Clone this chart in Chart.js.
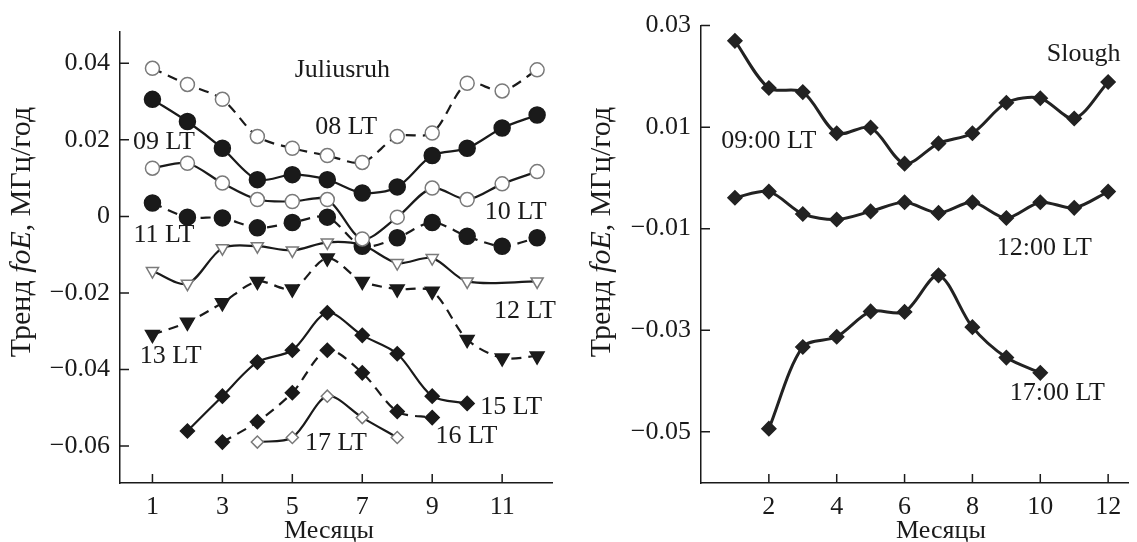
<!DOCTYPE html>
<html><head><meta charset="utf-8">
<script src="https://cdn.jsdelivr.net/npm/chart.js@4.4.1/dist/chart.umd.min.js"></script>
<style>
html,body{margin:0;background:#fff}
#wrap{position:relative;width:1137px;height:542px}
.pane{position:absolute;top:0;height:542px}
</style></head><body>
<div id="wrap">
  <div class="pane" style="left:0;width:562px"><canvas id="chL"></canvas></div>
  <div class="pane" style="left:562px;width:575px"><canvas id="chR"></canvas></div>
</div>
<script>
const $=id=>document.getElementById(id);
const F="'Liberation Serif','Times New Roman',serif";
const INK="#1a1a1a",GRAY="#7a7a7a",WHITE="#fff";

// месяцы
const months=[1,2,3,4,5,6,7,8,9,10,11,12];

// Juliusruh
const lt08=[0.0387,0.0345,0.0306,0.0209,0.0178,0.0159,0.0141,0.0209,0.0218,0.0348,0.0328,0.0383];
const lt09=[0.0306,0.0248,0.0178,0.0096,0.0109,0.0096,0.0061,0.0077,0.0159,0.0178,0.0231,0.0265];
const lt10=[0.0126,0.0139,0.0087,0.0044,0.0039,0.0044,-0.0059,-0.0002,0.0074,0.0044,0.0085,0.0117];
const lt11=[0.0035,-0.0002,-0.0004,-0.0030,-0.0016,-0.0002,-0.0078,-0.0056,-0.0016,-0.0052,-0.0078,-0.0056];
const lt12=[-0.0143,-0.0176,-0.0083,-0.0078,-0.0089,-0.0068,-0.0075,-0.0122,-0.0109,-0.0170,null,-0.0170];
const lt13=[-0.0309,-0.0277,-0.0226,-0.0170,-0.0190,-0.0109,-0.0170,-0.0190,-0.0196,-0.0322,-0.0370,-0.0365];
const lt15=[null,-0.0561,-0.0470,-0.0381,-0.0350,-0.0252,-0.0311,-0.0359,-0.0470,-0.0489,null,null];
const lt16=[null,null,-0.0590,-0.0537,-0.0461,-0.0350,-0.0409,-0.0510,-0.0526,null,null,null];
const lt17=[null,null,null,-0.0590,-0.0578,-0.0470,-0.0526,-0.0578,null,null,null,null];

// Slough
const s09=[0.0270,0.0177,0.0169,0.0088,0.0099,0.0028,0.0068,0.0088,0.0148,0.0157,0.0117,0.0189];
const s12=[-0.0039,-0.0027,-0.0071,-0.0082,-0.0066,-0.0048,-0.0069,-0.0048,-0.0079,-0.0048,-0.0059,-0.0027];
const s17=[null,-0.0494,-0.0333,-0.0313,-0.0263,-0.0264,-0.0192,-0.0294,-0.0354,-0.0384,null,null];

// деления осей
const xTicksL=[1,3,5,7,9,11], yTicksL=[-0.06,-0.04,-0.02,0,0.02,0.04];
const yLabelsL=["\u22120.06","\u22120.04","\u22120.02","0","0.02","0.04"];
const xTicksR=[2,4,6,8,10,12], yTicksR=[-0.05,-0.03,-0.01,0.01,0.03];
const yLabelsR=["\u22120.05","\u22120.03","\u22120.01","0.01","0.03"];

// подписи кривых
const notesL=[
  {t:"Juliusruh",x:6.43,y:0.0383},{t:"08 LT",x:6.54,y:0.0234},{t:"09 LT",x:1.33,y:0.0195},
  {t:"10 LT",x:11.39,y:0.0012},{t:"11 LT",x:1.33,y:-0.0048},{t:"12 LT",x:11.65,y:-0.0247},
  {t:"13 LT",x:1.52,y:-0.0366},{t:"15 LT",x:11.26,y:-0.0499},{t:"16 LT",x:9.98,y:-0.0575},
  {t:"17 LT",x:6.25,y:-0.0593}];
const notesR=[
  {t:"Slough",x:11.28,y:0.0243},{t:"09:00 LT",x:2.0,y:0.00725},
  {t:"12:00 LT",x:10.12,y:-0.0139},{t:"17:00 LT",x:10.5,y:-0.0425}];

const pts=arr=>months.map((m,i)=>({x:m,y:arr[i]})).filter(p=>p.y!==null);

function ds(arr,o){
  return Object.assign({data:pts(arr),borderColor:INK,borderWidth:2.2,tension:0.3,
    pointRadius:7,pointBorderWidth:1.5,pointBackgroundColor:INK,pointBorderColor:INK},o);
}
const openC={pointStyle:"circle",pointBackgroundColor:WHITE,pointBorderColor:GRAY,pointRadius:7};
const fillC={pointStyle:"circle",pointRadius:8};
const openT={pointStyle:"triangle",pointRotation:180,pointBackgroundColor:WHITE,pointBorderColor:GRAY,pointRadius:7};
const fillT={pointStyle:"triangle",pointRotation:180,pointRadius:8};
const fillD={pointStyle:"rectRot",pointRadius:7};
const openD={pointStyle:"rectRot",pointBackgroundColor:WHITE,pointBorderColor:GRAY,pointRadius:6};
const DASH=[10,7];

const deco={
  id:"deco",
  afterDraw(chart,args,o){
    const {ctx,chartArea:a,scales:{x,y}}=chart;
    ctx.save();
    ctx.strokeStyle=INK;ctx.lineWidth=1.5;
    ctx.beginPath();
    o.xt.forEach(v=>{const p=x.getPixelForValue(v);ctx.moveTo(p,a.bottom);ctx.lineTo(p,a.bottom-9);});
    o.yt.forEach(v=>{const p=y.getPixelForValue(v);ctx.moveTo(a.left,p);ctx.lineTo(a.left+9,p);});
    ctx.stroke();
    ctx.fillStyle=INK;ctx.textAlign="center";ctx.textBaseline="middle";
    ctx.font="26px "+F;
    o.notes.forEach(n=>ctx.fillText(n.t,x.getPixelForValue(n.x),y.getPixelForValue(n.y)));
    // подпись оси X
    ctx.fillText("Месяцы",o.xtX,o.xtY);
    // подпись оси Y (foE курсивом)
    const parts=[["Тренд ","30px "+F],["foE","italic 30px "+F],[", МГц/год","30px "+F]];
    let w=0;parts.forEach(p=>{ctx.font=p[1];w+=ctx.measureText(p[0]).width;});
    ctx.translate(o.ytX,o.ytY);ctx.rotate(-Math.PI/2);
    ctx.textAlign="left";
    let cx=-w/2;
    parts.forEach(p=>{ctx.font=p[1];ctx.fillText(p[0],cx,0);cx+=ctx.measureText(p[0]).width;});
    ctx.restore();
  }
};

function opts(xr,yr,xt,yt,yl,pad,yw,deco){
  return {
    responsive:true,maintainAspectRatio:false,animation:false,
    layout:{padding:pad},
    plugins:{legend:{display:false},tooltip:{enabled:false},deco},
    scales:{
      x:{type:"linear",min:xr[0],max:xr[1],
        afterBuildTicks:s=>{s.ticks=xt.map(v=>({value:v}));},
        afterFit:s=>{s.height=59;},
        grid:{display:false,drawTicks:false},
        border:{display:true,color:INK,width:1.5},
        ticks:{padding:9,color:INK,font:{family:F,size:26},callback:v=>String(v),maxRotation:0}},
      y:{type:"linear",min:yr[0],max:yr[1],
        afterBuildTicks:s=>{s.ticks=yt.map(v=>({value:v}));},
        afterFit:s=>{s.width=yw;},
        grid:{display:false,drawTicks:false},
        border:{display:true,color:INK,width:1.5},
        ticks:{padding:10,color:INK,font:{family:F,size:26},callback:(v,i)=>yl[i]}}
    }
  };
}

new Chart($("chL"),{type:"line",
  data:{datasets:[
    ds(lt08,Object.assign({borderDash:DASH},openC)),
    ds(lt09,fillC),
    ds(lt10,openC),
    ds(lt11,Object.assign({borderDash:DASH},fillC)),
    ds(lt12,openT),
    ds(lt13,Object.assign({borderDash:DASH},fillT)),
    ds(lt15,fillD),
    ds(lt16,Object.assign({borderDash:DASH},fillD)),
    ds(lt17,openD)
  ]},
  options:opts([0.072,12.44],[-0.0697,0.0482],xTicksL,yTicksL,yLabelsL,
    {top:32,right:6,bottom:0,left:0},120,
    {xt:xTicksL,yt:yTicksL,notes:notesL,xtX:329,xtY:531,ytX:22,ytY:232}),
  plugins:[deco]});

const R={borderColor:"#222",borderWidth:3,pointBackgroundColor:"#222",pointBorderColor:"#222",pointStyle:"rectRot",pointRadius:7};
new Chart($("chR"),{type:"line",
  data:{datasets:[ds(s09,R),ds(s12,R),ds(s17,R)]},
  options:opts([0,12.6],[-0.0601,0.03],xTicksR,yTicksR,yLabelsR,
    {top:24,right:0,bottom:0,left:0},139,
    {xt:xTicksR,yt:yTicksR,notes:notesR,xtX:941-562,xtY:531,ytX:602-562,ytY:232}),
  plugins:[deco]});
</script>
</body></html>
